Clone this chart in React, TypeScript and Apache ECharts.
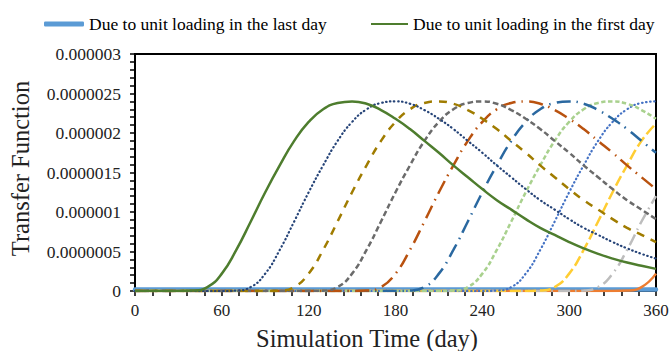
import React, { useEffect, useRef } from "react";
import * as echarts from "echarts";

// Values are read in units of 1e-6 (transfer function), sampled every 10 days.
const UNIT = 1e-6;

const DAYS = [
  0, 10, 20, 30, 40, 50, 60, 70, 80, 90, 100, 110, 120, 130, 140, 150, 160, 170, 180,
  190, 200, 210, 220, 230, 240, 250, 260, 270, 280, 290, 300, 310, 320, 330, 340, 350, 360,
];

const X_TICKS = [0, 60, 120, 180, 240, 300, 360];
const Y_TICKS = [0, 0.0000005, 0.000001, 0.0000015, 0.000002, 0.0000025, 0.000003];

// Loading in the first day (green, solid)
const LOAD_DAY_0 = [
  0, 0, 0, 0, 0.005, 0.05, 0.22, 0.52, 0.88, 1.25, 1.59, 1.9, 2.14, 2.3, 2.38, 2.4, 2.37,
  2.29, 2.18, 2.05, 1.9, 1.75, 1.59, 1.44, 1.29, 1.15, 1.03, 0.91, 0.8, 0.71, 0.62, 0.54,
  0.47, 0.41, 0.36, 0.32, 0.28,
];
const LOAD_DAY_30 = [
  0, 0, 0, 0, 0, 0, 0, 0.005, 0.05, 0.22, 0.52, 0.88, 1.25, 1.59, 1.9, 2.14, 2.3, 2.38,
  2.4, 2.37, 2.29, 2.18, 2.05, 1.9, 1.75, 1.59, 1.44, 1.29, 1.15, 1.03, 0.91, 0.8, 0.71,
  0.62, 0.54, 0.47, 0.41,
];
const LOAD_DAY_60 = [
  0, 0, 0, 0, 0, 0, 0, 0, 0, 0, 0.005, 0.05, 0.22, 0.52, 0.88, 1.25, 1.59, 1.9, 2.14,
  2.3, 2.38, 2.4, 2.37, 2.29, 2.18, 2.05, 1.9, 1.75, 1.59, 1.44, 1.29, 1.15, 1.03, 0.91,
  0.8, 0.71, 0.62,
];
const LOAD_DAY_90 = [
  0, 0, 0, 0, 0, 0, 0, 0, 0, 0, 0, 0, 0, 0.005, 0.05, 0.22, 0.52, 0.88, 1.25, 1.59, 1.9,
  2.14, 2.3, 2.38, 2.4, 2.37, 2.29, 2.18, 2.05, 1.9, 1.75, 1.59, 1.44, 1.29, 1.15, 1.03,
  0.91,
];
const LOAD_DAY_120 = [
  0, 0, 0, 0, 0, 0, 0, 0, 0, 0, 0, 0, 0, 0, 0, 0, 0.005, 0.05, 0.22, 0.52, 0.88, 1.25,
  1.59, 1.9, 2.14, 2.3, 2.38, 2.4, 2.37, 2.29, 2.18, 2.05, 1.9, 1.75, 1.59, 1.44, 1.29,
];
const LOAD_DAY_150 = [
  0, 0, 0, 0, 0, 0, 0, 0, 0, 0, 0, 0, 0, 0, 0, 0, 0, 0, 0, 0.005, 0.05, 0.22, 0.52, 0.88,
  1.25, 1.59, 1.9, 2.14, 2.3, 2.38, 2.4, 2.37, 2.29, 2.18, 2.05, 1.9, 1.75,
];
const LOAD_DAY_180 = [
  0, 0, 0, 0, 0, 0, 0, 0, 0, 0, 0, 0, 0, 0, 0, 0, 0, 0, 0, 0, 0, 0, 0.005, 0.05, 0.22,
  0.52, 0.88, 1.25, 1.59, 1.9, 2.14, 2.3, 2.38, 2.4, 2.37, 2.29, 2.18,
];
const LOAD_DAY_210 = [
  0, 0, 0, 0, 0, 0, 0, 0, 0, 0, 0, 0, 0, 0, 0, 0, 0, 0, 0, 0, 0, 0, 0, 0, 0, 0.005,
  0.05, 0.22, 0.52, 0.88, 1.25, 1.59, 1.9, 2.14, 2.3, 2.38, 2.4,
];
const LOAD_DAY_240 = [
  0, 0, 0, 0, 0, 0, 0, 0, 0, 0, 0, 0, 0, 0, 0, 0, 0, 0, 0, 0, 0, 0, 0, 0, 0, 0, 0, 0,
  0.005, 0.05, 0.22, 0.52, 0.88, 1.25, 1.59, 1.9, 2.12,
];
const LOAD_DAY_270 = [
  0, 0, 0, 0, 0, 0, 0, 0, 0, 0, 0, 0, 0, 0, 0, 0, 0, 0, 0, 0, 0, 0, 0, 0, 0, 0, 0, 0, 0,
  0, 0, 0.005, 0.05, 0.22, 0.52, 0.88, 1.2,
];
const LOAD_DAY_300 = [
  0, 0, 0, 0, 0, 0, 0, 0, 0, 0, 0, 0, 0, 0, 0, 0, 0, 0, 0, 0, 0, 0, 0, 0, 0, 0, 0, 0, 0,
  0, 0, 0, 0, 0, 0.005, 0.05, 0.22,
];
// Loading in the last day (light blue, thick) – stays at the bottom
const LOAD_LAST_DAY = [
  0.02, 0.02, 0.02, 0.02, 0.02, 0.02, 0.02, 0.02, 0.02, 0.02, 0.02, 0.02, 0.02, 0.02,
  0.02, 0.02, 0.02, 0.02, 0.02, 0.02, 0.02, 0.02, 0.02, 0.02, 0.02, 0.02, 0.02, 0.02,
  0.02, 0.02, 0.02, 0.02, 0.02, 0.02, 0.02, 0.02, 0.02,
];

const NAME_LAST = "Due to unit loading in the last day";
const NAME_FIRST = "Due to unit loading in the first day";

const FONT = "Liberation Serif";

type Style = {
  name: string;
  values: number[];
  color: string;
  width: number;
  type: string | number[];
  cap?: string;
};

const SERIES_STYLES: Style[] = [
  { name: NAME_LAST, values: LOAD_LAST_DAY, color: "#5B9BD5", width: 4.5, type: "solid", cap: "round" },
  { name: "Loading on day 300", values: LOAD_DAY_300, color: "#ED7D31", width: 2.5, type: "solid" },
  { name: "Loading on day 270", values: LOAD_DAY_270, color: "#BDBDBD", width: 2.5, type: [12, 5, 1.5, 5] },
  { name: "Loading on day 240", values: LOAD_DAY_240, color: "#FFCD33", width: 2.5, type: [11, 4] },
  { name: "Loading on day 210", values: LOAD_DAY_210, color: "#4472C4", width: 2.2, type: [0.5, 3.5], cap: "round" },
  { name: "Loading on day 180", values: LOAD_DAY_180, color: "#A9D18E", width: 2.5, type: [4.5, 2.5] },
  { name: "Loading on day 150", values: LOAD_DAY_150, color: "#2A68A0", width: 2.5, type: [14, 6, 1.5, 6] },
  { name: "Loading on day 120", values: LOAD_DAY_120, color: "#B9520F", width: 2.5, type: [14, 6, 1.5, 6] },
  { name: "Loading on day 90", values: LOAD_DAY_90, color: "#6B6B6B", width: 2.5, type: [5.5, 3] },
  { name: "Loading on day 60", values: LOAD_DAY_60, color: "#A07C00", width: 2.5, type: [8, 7] },
  { name: "Loading on day 30", values: LOAD_DAY_30, color: "#264478", width: 2.2, type: [0.5, 3.5], cap: "round" },
  { name: NAME_FIRST, values: LOAD_DAY_0, color: "#4E7D2E", width: 2.5, type: "solid" },
];

function formatY(v: number): string {
  if (v === 0) return "0";
  return v.toFixed(7).replace(/0+$/, "");
}

export default function App() {
  const ref = useRef<HTMLDivElement>(null);

  useEffect(() => {
    if (!ref.current) return;
    document.body.style.margin = "0";
    document.documentElement.style.overflow = "hidden";
    document.body.style.overflow = "hidden";
    const chart = echarts.init(ref.current, null, { renderer: "svg" });

    const series = SERIES_STYLES.map((s) => ({
      name: s.name,
      type: "line",
      data: DAYS.map((d, i) => [d, s.values[i] * UNIT]),
      showSymbol: false,
      symbol: "none",
      smooth: 0.5,
      color: s.color,
      lineStyle: { color: s.color, width: s.width, type: s.type, cap: s.cap || "butt" },
      emphasis: { disabled: true },
    }));

    const axisLineStyle = { color: "#000", width: 2 };
    const tickStyle = { color: "#000", width: 1.5 };
    const legendText = { fontFamily: FONT, fontSize: 17.5, color: "#000" };

    chart.setOption({
      animation: false,
      legend: [
        {
          data: [NAME_LAST],
          left: 39,
          top: 10,
          icon: "roundRect",
          itemWidth: 40,
          itemHeight: 5,
          textStyle: legendText,
          selectedMode: false,
        },
        {
          data: [NAME_FIRST],
          left: 366,
          top: 10,
          icon: "rect",
          itemWidth: 37,
          itemHeight: 2,
          textStyle: legendText,
          selectedMode: false,
        },
      ],
      grid: {
        left: 135,
        right: 13,
        top: 54,
        bottom: 60,
        containLabel: false,
        outerBoundsMode: "none",
        show: true,
        borderColor: "#000",
        borderWidth: 2,
        backgroundColor: "transparent",
      },
      xAxis: {
        type: "value",
        min: X_TICKS[0],
        max: X_TICKS[X_TICKS.length - 1],
        interval: X_TICKS[1] - X_TICKS[0],
        axisLine: { show: true, onZero: false, lineStyle: axisLineStyle },
        axisTick: { show: true, length: 5, lineStyle: tickStyle },
        minorTick: { show: true, splitNumber: 5, length: 5, lineStyle: tickStyle },
        splitLine: { show: false },
        axisLabel: { fontFamily: FONT, fontSize: 17, color: "#222", margin: 11 },
        name: "Simulation Time (day)",
        nameLocation: "middle",
        nameGap: 35,
        nameTextStyle: { fontFamily: FONT, fontSize: 24.5, color: "#222", padding: [0, 57, 0, 0] },
      },
      yAxis: {
        type: "value",
        min: Y_TICKS[0],
        max: Y_TICKS[Y_TICKS.length - 1],
        interval: Y_TICKS[1] - Y_TICKS[0],
        axisLine: { show: true, onZero: false, lineStyle: axisLineStyle },
        axisTick: { show: true, length: 5, lineStyle: tickStyle },
        minorTick: { show: true, splitNumber: 5, length: 5, lineStyle: tickStyle },
        splitLine: { show: false },
        axisLabel: { fontFamily: FONT, fontSize: 17.5, color: "#222", margin: 14, formatter: formatY },
        name: "Transfer Function",
        nameLocation: "middle",
        nameRotate: 90,
        nameGap: 102,
        nameTextStyle: { fontFamily: FONT, fontSize: 24.5, color: "#222", padding: [0, 0, 0, 8] },
      },
      series,
    });

    return () => chart.dispose();
  }, []);

  return (
    <div
      ref={ref}
      style={{ position: "fixed", left: 0, top: 0, width: 669, height: 351, background: "#fff" }}
    />
  );
}
